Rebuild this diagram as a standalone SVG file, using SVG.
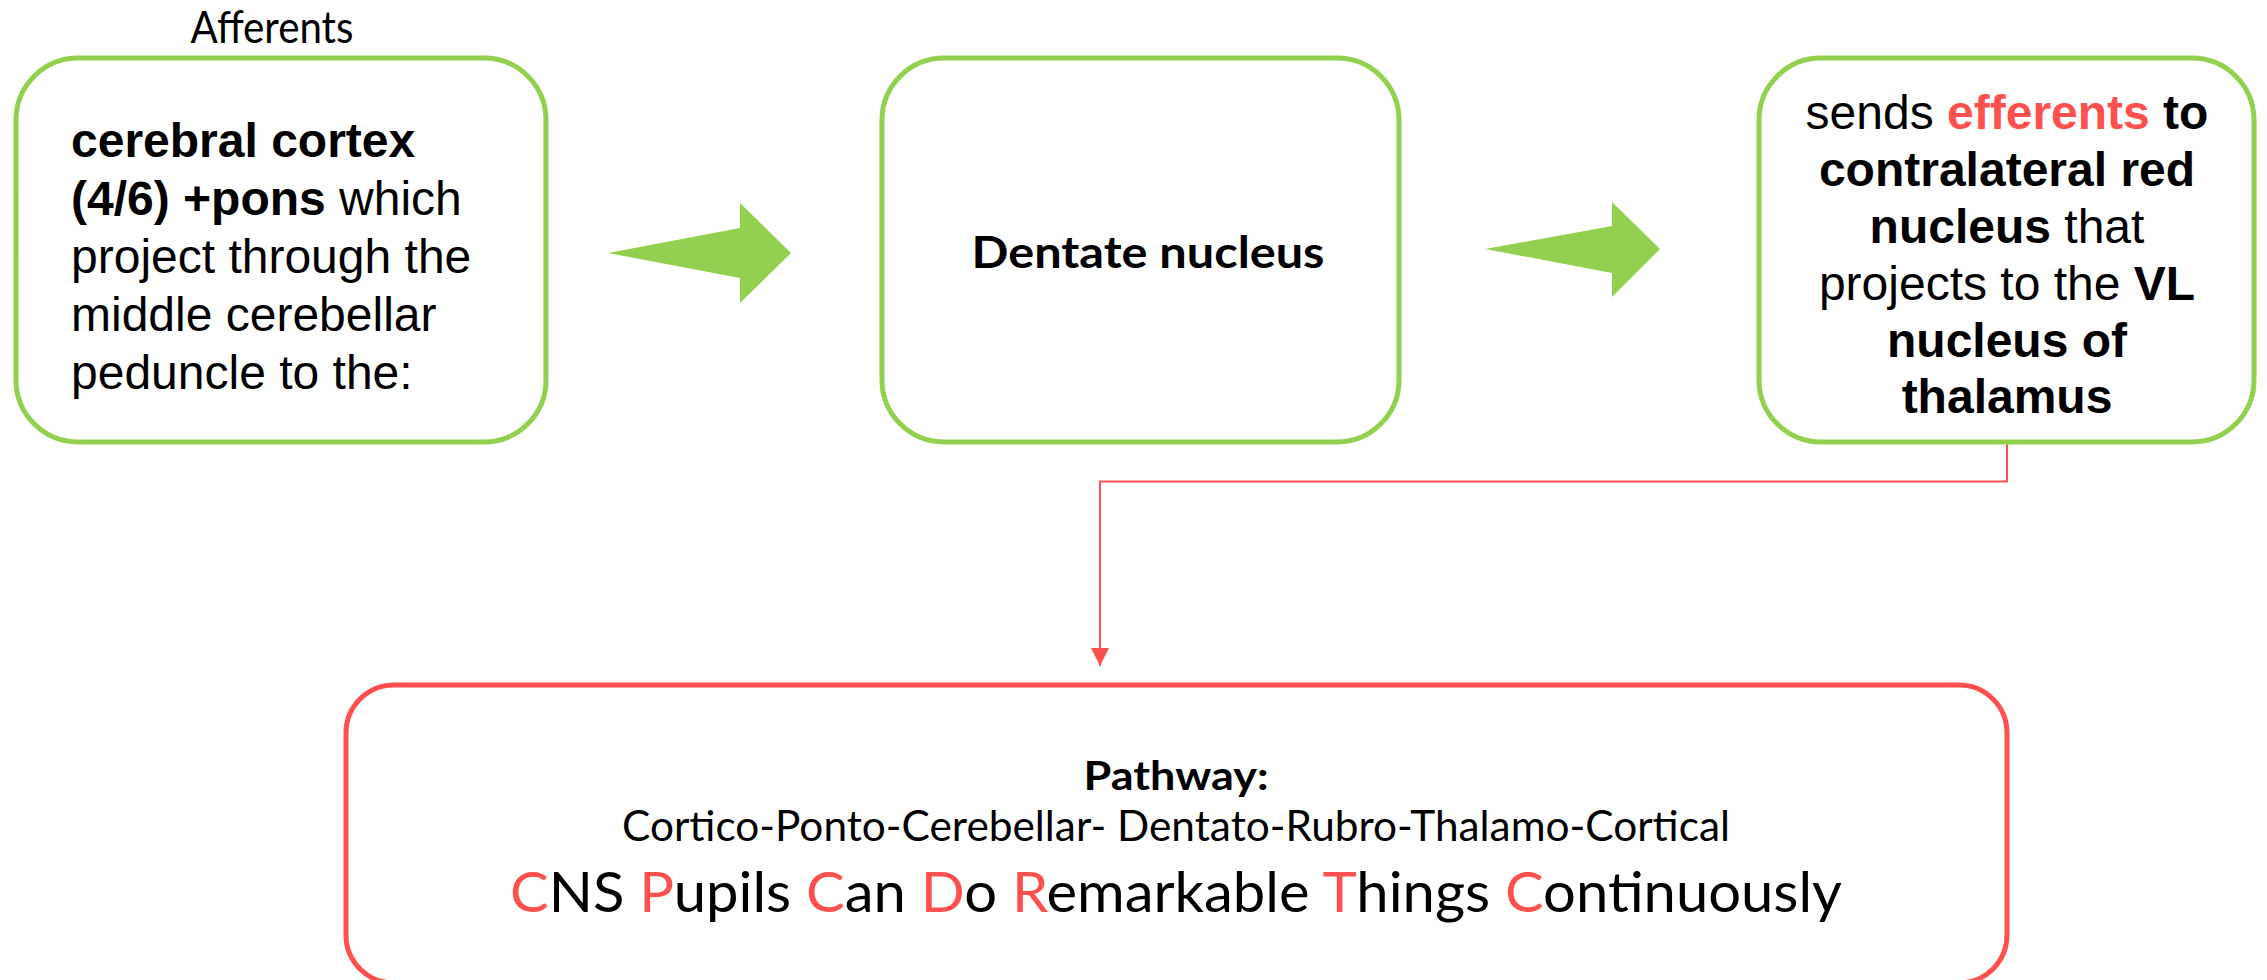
<svg xmlns="http://www.w3.org/2000/svg" width="2267" height="980" viewBox="0 0 2267 980">
<defs>
<style>
.gbox{fill:#fff;stroke:#92D050;stroke-width:5}
.rbox{fill:#fff;stroke:#FF5050;stroke-width:5}
.garrow{fill:#92D050}
.conn{fill:none;stroke:#FF5050;stroke-width:2}
.ar{font-family:"Liberation Sans",Arial,sans-serif;font-size:48px;fill:#000}
.b{font-weight:bold}
.red{fill:#FF5050}
.cal{font-family:Lato,"Open Sans",sans-serif;fill:#000}
</style>
<marker id="ah" markerUnits="userSpaceOnUse" markerWidth="18" markerHeight="18" viewBox="0 0 16 16" refX="16" refY="8" orient="auto">
<path d="M0,0 L16,8 L0,16 z" fill="#FF5050"/>
</marker>
</defs>
<rect width="2267" height="980" fill="#fff"/>
<g id="connectors">
<polygon class="garrow" points="608,253 740,228 740,203 791,253 740,303 740,278"/>
<polygon class="garrow" points="1485,249 1612,226 1612,202 1660,249 1612,297 1612,273"/>
<path class="conn" d="M2007,444 V481.5 H1100 V666" marker-end="url(#ah)"/>
</g>
<g id="afferents-label">
<text class="cal" x="272" y="43" font-size="45" text-anchor="middle" textLength="163" lengthAdjust="spacingAndGlyphs">Afferents</text>
</g>
<g id="node-cortex">
<rect class="gbox" x="16" y="58" width="530" height="384" rx="62" ry="62"/>
<text class="ar" x="71" y="157"><tspan class="b">cerebral cortex</tspan></text>
<text class="ar" x="71" y="215"><tspan class="b">(4/6) +pons</tspan> which</text>
<text class="ar" x="71" y="273">project through the</text>
<text class="ar" x="71" y="331">middle cerebellar</text>
<text class="ar" x="71" y="389">peduncle to the:</text>
</g>
<g id="node-dentate">
<rect class="gbox" x="882" y="58" width="517" height="384" rx="62" ry="62"/>
<text class="cal b" x="1148" y="268" font-size="43" text-anchor="middle" textLength="353" lengthAdjust="spacingAndGlyphs">Dentate nucleus</text>
</g>
<g id="node-red-nucleus">
<rect class="gbox" x="1759" y="58" width="495" height="384" rx="62" ry="62"/>
<text class="ar" x="2007" y="129" text-anchor="middle">sends <tspan class="b red">efferents</tspan><tspan class="b"> to</tspan></text>
<text class="ar b" x="2007" y="186" text-anchor="middle">contralateral red</text>
<text class="ar" x="2007" y="243" text-anchor="middle"><tspan class="b">nucleus</tspan> that</text>
<text class="ar" x="2007" y="300" text-anchor="middle">projects to the <tspan class="b">VL</tspan></text>
<text class="ar b" x="2007" y="357" text-anchor="middle">nucleus of</text>
<text class="ar b" x="2007" y="413" text-anchor="middle">thalamus</text>
</g>
<g id="node-pathway">
<rect class="rbox" x="346" y="685" width="1661" height="298" rx="48" ry="48"/>
<text class="cal b" x="1176" y="790" font-size="40" text-anchor="middle" textLength="185" lengthAdjust="spacingAndGlyphs">Pathway:</text>
<text class="cal" x="1176" y="841" font-size="43" text-anchor="middle" textLength="1108" lengthAdjust="spacingAndGlyphs">Cortico-Ponto-Cerebellar- Dentato-Rubro-Thalamo-Cortical</text>
<text class="cal" x="1176" y="912" font-size="57" text-anchor="middle" textLength="1332" lengthAdjust="spacingAndGlyphs"><tspan class="red">C</tspan>NS <tspan class="red">P</tspan>upils <tspan class="red">C</tspan>an <tspan class="red">D</tspan>o <tspan class="red">R</tspan>emarkable <tspan class="red">T</tspan>hings <tspan class="red">C</tspan>ontinuously</text>
</g>
</svg>
